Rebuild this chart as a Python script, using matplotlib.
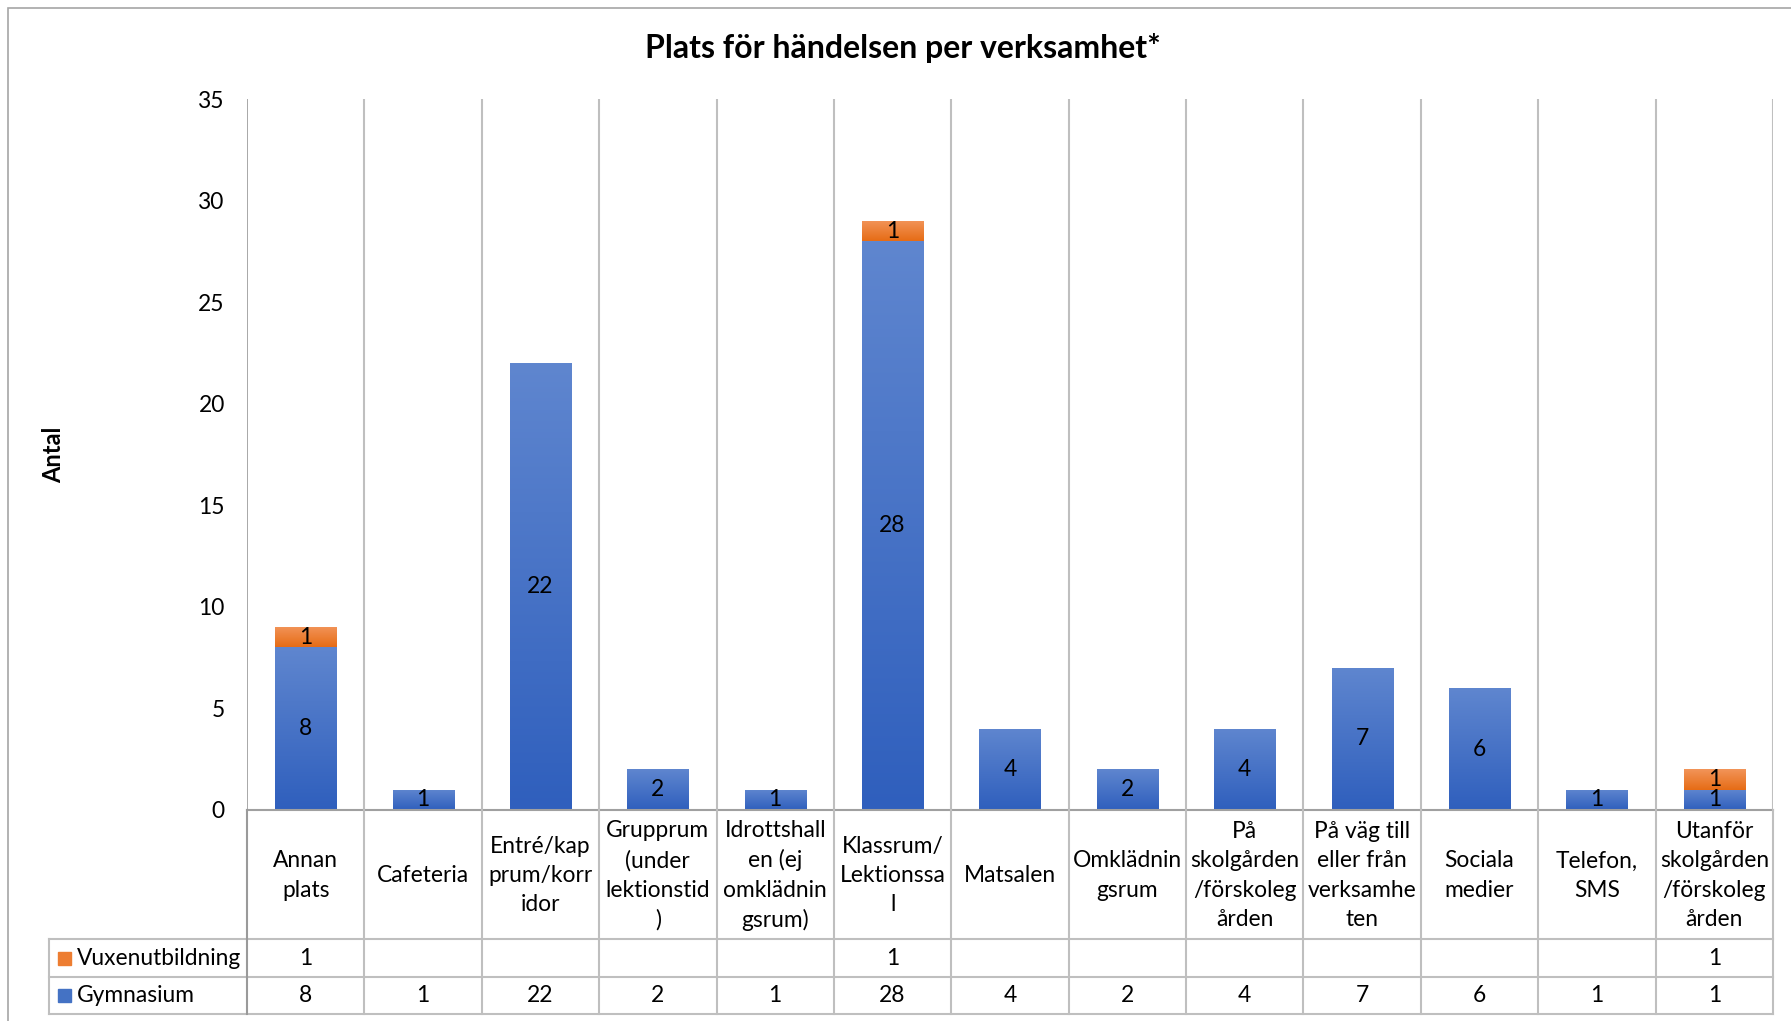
import numpy as np
import matplotlib
matplotlib.use("Agg")
import matplotlib.pyplot as plt
from matplotlib.colors import LinearSegmentedColormap
from matplotlib.patches import Rectangle
from matplotlib.lines import Line2D

plt.rcParams['font.family'] = ['Lato', 'DejaVu Sans']

categories = ["Annan\nplats", "Cafeteria", "Entré/kap\nprum/korr\nidor",
              "Grupprum\n(under\nlektionstid\n)", "Idrottshall\nen (ej\nomklädnin\ngsrum)",
              "Klassrum/\nLektionssa\nl", "Matsalen", "Omklädnin\ngsrum",
              "På\nskolgården\n/förskoleg\nården", "På väg till\neller från\nverksamhe\nten",
              "Sociala\nmedier", "Telefon,\nSMS", "Utanför\nskolgården\n/förskoleg\nården"]
gymnasium = [8, 1, 22, 2, 1, 28, 4, 2, 4, 7, 6, 1, 1]
vuxenutbildning = [1, 0, 0, 0, 0, 1, 0, 0, 0, 0, 0, 0, 1]
series_names = ["Vuxenutbildning", "Gymnasium"]
yticks = [0, 5, 10, 15, 20, 25, 30, 35]
title = "Plats för händelsen per verksamhet*"
ylabel = "Antal"

W, H = 1791, 1021
fig = plt.figure(figsize=(W / 100, H / 100), dpi=100)

def fx(px):
    return px / W

def fy(py):
    return 1 - py / H

# outer border
fig.add_artist(Rectangle((fx(8), fy(1030)), fx(1800) - fx(8), fy(8) - fy(1030),
                         transform=fig.transFigure, fill=False, edgecolor='#a6a6a6', lw=1.2))

L, R, T, B = 247, 1773, 99, 810
ax = fig.add_axes([fx(L), fy(B), fx(R) - fx(L), fy(T) - fy(B)])
n = len(categories)
x = np.arange(n)
ax.set_xlim(-0.5, n - 0.5)
ax.set_ylim(0, 35)

blue_cmap = LinearSegmentedColormap.from_list('b', ['#2f5fbd', '#5f86cf'])
orange_cmap = LinearSegmentedColormap.from_list('o', ['#e66c15', '#f29459'])
grad = np.linspace(0, 1, 256).reshape(-1, 1)

width = 0.52
gb = ax.bar(x, gymnasium, width, color='#4472c4', zorder=2)
vb = ax.bar(x, vuxenutbildning, width, bottom=gymnasium, color='#ed7d31', zorder=2)
for bars, cmap in ((gb, blue_cmap), (vb, orange_cmap)):
    for p in bars:
        h = p.get_height()
        if h <= 0:
            continue
        x0 = p.get_x()
        y0 = p.get_y()
        im = ax.imshow(grad, extent=[x0, x0 + p.get_width(), y0, y0 + h], origin='lower',
                       aspect='auto', cmap=cmap, zorder=3, interpolation='bilinear')
        im.set_clip_path(p)
ax.set_xlim(-0.5, n - 0.5)
ax.set_ylim(0, 35)

fs = 16.4
for i in range(n):
    g = gymnasium[i]
    v = vuxenutbildning[i]
    ax.text(x[i], g / 2, str(g), ha='center', va='center', fontsize=fs, color='black', zorder=5)
    if v:
        ax.text(x[i], g + v / 2, str(v), ha='center', va='center', fontsize=fs, color='black', zorder=5)

for i in range(1, n + 1):
    ax.axvline(i - 0.5, color='#bfbfbf', lw=1.5, zorder=1)
ax.axvline(-0.5, color='#9a9a9a', lw=1.2, zorder=1)

for s in ax.spines.values():
    s.set_visible(False)
ax.set_xticks([])
ax.set_yticks(yticks)
ax.set_yticklabels([str(t) for t in yticks], fontsize=fs)
ax.tick_params(axis='y', length=0, pad=16)

# table
TB = 1014
tax = fig.add_axes([fx(L), fy(TB), fx(R) - fx(L), fy(B) - fy(TB)])
tax.set_xlim(-0.5, n - 0.5)
tax.set_ylim(TB, B)
tax.axis('off')
px = n / (R - L)
xl = -0.5 - (L - 49) * px
row1, row2 = 939, 977
lc = '#bfbfbf'
tax.add_line(Line2D([-0.5, n - 0.5], [B, B], color='#a0a0a0', lw=1.5, clip_on=False))
for yy in (row1, row2, TB):
    tax.add_line(Line2D([xl, n - 0.5], [yy, yy], color=lc, lw=1.5, clip_on=False))
tax.add_line(Line2D([xl, xl], [row1, TB], color=lc, lw=1.5, clip_on=False))
for i in range(n + 1):
    tax.add_line(Line2D([i - 0.5, i - 0.5], [B, TB], color=lc if i else '#9a9a9a', lw=1.5, clip_on=False))

for i in range(n):
    tax.text(x[i], (B + row1) / 2 + 1, categories[i], ha='center', va='center', fontsize=fs,
             linespacing=1.48, clip_on=False)
    if vuxenutbildning[i]:
        tax.text(x[i], (row1 + row2) / 2, str(vuxenutbildning[i]), ha='center', va='center',
                 fontsize=fs, clip_on=False)
    tax.text(x[i], (row2 + TB) / 2, str(gymnasium[i]), ha='center', va='center',
             fontsize=fs, clip_on=False)

sq = 13
for (yy0, yy1), name, col in (((row1, row2), series_names[0], '#ed7d31'),
                              ((row2, TB), series_names[1], '#4472c4')):
    yc = (yy0 + yy1) / 2
    sx = -0.5 - (L - 58) * px
    tax.add_patch(Rectangle((sx, yc - sq / 2), sq * px, sq, color=col, clip_on=False))
    tax.text(-0.5 - (L - 77) * px, yc, name, ha='left', va='center', fontsize=fs, clip_on=False)

fig.text(fx(903), fy(48), title, ha='center', va='center', fontsize=23, fontweight='bold')
fig.text(fx(54), fy(455), ylabel, ha='center', va='center', fontsize=17, fontweight='bold', rotation=90)

fig.savefig('out.png', dpi=100)
